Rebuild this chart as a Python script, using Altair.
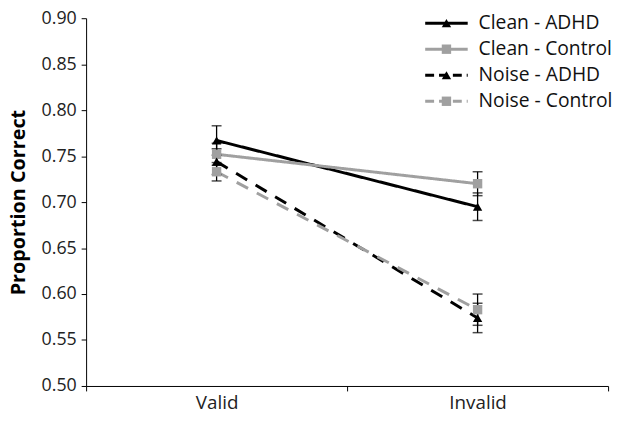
import altair as alt
import pandas as pd

cues = ["Valid", "Invalid"]
series = ["Clean - ADHD", "Clean - Control", "Noise - ADHD", "Noise - Control"]
clean_adhd = [0.767, 0.695]
clean_control = [0.752, 0.720]
noise_adhd = [0.744, 0.574]
noise_control = [0.733, 0.583]
err_clean_adhd = [0.016, 0.015]
err_clean_control = [0.012, 0.013]
err_noise_adhd = [0.014, 0.016]
err_noise_control = [0.010, 0.017]

vals = [clean_adhd, clean_control, noise_adhd, noise_control]
errs = [err_clean_adhd, err_clean_control, err_noise_adhd, err_noise_control]
rows = []
for s, v, e in zip(series, vals, errs):
    for c, vv, ee in zip(cues, v, e):
        rows.append({"cue": c, "series": s, "value": vv, "lo": vv - ee, "hi": vv + ee})
df = pd.DataFrame(rows)

colors = ["#000000", "#a0a0a0", "#000000", "#a0a0a0"]
dashes = [[1, 0], [1, 0], [13, 10], [13, 10]]
shapes = ["triangle-up", "square", "triangle-up", "square"]

FONT = "Open Sans"

xenc = alt.X("cue:N", sort=cues, title=None,
             scale=alt.Scale(paddingInner=0, paddingOuter=0),
             axis=alt.Axis(labelAngle=0, tickBand="extent", labelFontSize=19,
                           labelFont=FONT, labelColor="#222", domainColor="#000",
                           tickColor="#000", tickSize=5, labelPadding=3, grid=False))
yenc = alt.Y("value:Q", title="Proportion Correct",
             scale=alt.Scale(domain=[0.5, 0.9], nice=False, zero=False),
             axis=alt.Axis(values=[0.5, 0.55, 0.6, 0.65, 0.7, 0.75, 0.8, 0.85, 0.9],
                           format=".2f", labelFontSize=18, labelFont=FONT, labelColor="#222",
                           labelPadding=5,
                           titleFont=FONT, titleFontSize=20, titleFontWeight="bold",
                           titleColor="#000", domainColor="#000", tickColor="#000",
                           tickSize=5, grid=False, titlePadding=13))
color = alt.Color("series:N", scale=alt.Scale(domain=series, range=colors), legend=None)
dash = alt.StrokeDash("series:N", scale=alt.Scale(domain=series, range=dashes), legend=None)
shape = alt.Shape("series:N", scale=alt.Scale(domain=series, range=shapes), legend=None)

base = alt.Chart(df)
lines = base.mark_line(strokeWidth=3).encode(x=xenc, y=yenc, color=color, strokeDash=dash, detail="series:N")
ebar = base.mark_rule(color="#000", strokeWidth=1.3).encode(x=xenc, y="lo:Q", y2="hi:Q")
cap_lo = base.mark_tick(color="#000", thickness=1.5, size=10, orient="horizontal").encode(x=xenc, y="lo:Q")
cap_hi = base.mark_tick(color="#000", thickness=1.5, size=10, orient="horizontal").encode(x=xenc, y="hi:Q")
pts = base.mark_point(filled=True, opacity=1, size=90).encode(x=xenc, y=yenc, color=color, shape=shape)

# legend
leg = pd.DataFrame({"series": series, "row": [0, 1, 2, 3]})
ly = alt.Y("row:Q", scale=alt.Scale(domain=[0, 3], range=[5, 84], nice=False, zero=False), axis=None)
lcolor = alt.Color("series:N", scale=alt.Scale(domain=series, range=colors), legend=None)
ldash = alt.StrokeDash("series:N", scale=alt.Scale(domain=series, range=[[1, 0], [1, 0], [9, 5], [9, 5]]), legend=None)
lshape = alt.Shape("series:N", scale=alt.Scale(domain=series, range=shapes), legend=None)
lb = alt.Chart(leg)
leg_line = lb.mark_rule(strokeWidth=3).encode(x=alt.value(343), x2=alt.value(386), y=ly,
                                               color=lcolor, strokeDash=ldash)
leg_pt = lb.mark_point(filled=True, opacity=1, size=90).encode(x=alt.value(364.5), y=ly,
                                                               color=lcolor, shape=lshape)
leg_txt = lb.mark_text(align="left", baseline="middle", fontSize=19.5, font=FONT, color="#111").encode(
    x=alt.value(397), y=ly, text="series:N")
legend = alt.layer(leg_line, leg_pt, leg_txt)

main = alt.layer(lines, ebar, cap_lo, cap_hi, pts)
chart = alt.layer(main, legend).resolve_scale(y="independent", color="independent",
                                              strokeDash="independent", shape="independent").properties(
    width=528, height=372,
    padding={"left": 79, "top": 8, "right": 8, "bottom": 25},
    autosize=alt.AutoSizeParams(type="none"),
).configure_view(stroke=None)

chart.save("out.html", embed_options={"renderer": "svg", "actions": False})
